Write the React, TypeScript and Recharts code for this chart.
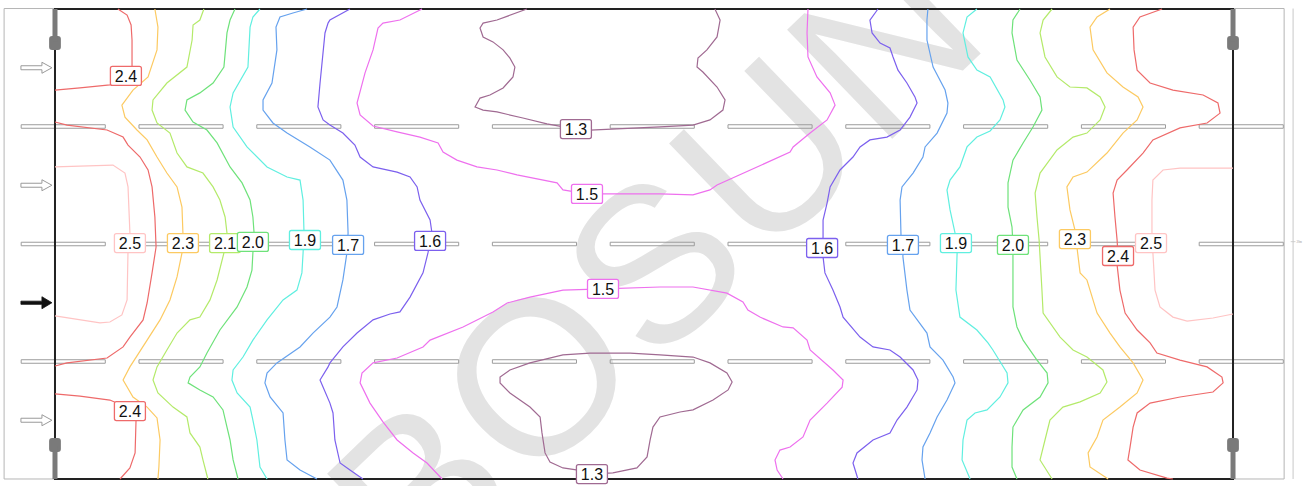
import React from "react";
import { ComposedChart, XAxis, YAxis, Line, Scatter, ReferenceArea, ReferenceLine } from "recharts";

// Room: 50 m x 20 m, coordinates in metres (y measured from the bottom wall)
const X_DOMAIN: [number, number] = [-2.334, 53.098];
const Y_DOMAIN: [number, number] = [-0.298, 20.383];
const ROOM_W = 50;
const ROOM_H = 20;

const levelColors: Record<string, string> = {
  "2.5": "#ffc4c4",
  "2.4": "#ee6a6a",
  "2.3": "#fcca62",
  "2.1": "#b4ea6a",
  "2.0": "#6ee27a",
  "1.9": "#60efe0",
  "1.7": "#66a2ee",
  "1.6": "#7c60ee",
  "1.5": "#ee70ee",
  "1.3": "#a06a92",
};

const c24a = [[0,16.55],[1.06,16.64],[2.33,16.77],[3.18,17.06],[3.27,17.53],[3.27,18.68],[3.23,19.32],[3.06,19.74],[2.67,20]];
const c24b = [[0,15.19],[0.51,15.06],[2.21,14.85],[2.89,14.55],[3.10,14.21],[3.61,13.70],[3.95,13.15],[4.12,12.43],[4.24,11.15],[4.29,9.87],[4.12,8.77],[3.91,7.49],[3.74,6.77],[3.18,6.04],[2.89,5.62],[2.21,5.15],[0.51,4.94],[0,4.81]];
const c24c = [[0,3.62],[1.06,3.53],[2.33,3.36],[3.31,2.94],[3.44,2.51],[3.40,1.11],[3.18,0.47],[2.76,0]];
const c25a = [[0,13.28],[2.46,13.36],[2.97,13.02],[3.10,12.43],[3.18,10.47],[3.10,9.74],[3.06,7.62],[2.84,6.98],[2.33,6.68],[1.91,6.64],[0,6.94]];
const c23a = [[4.24,20],[4.37,19.23],[4.33,18.26],[3.95,17.11],[3.31,16.55],[2.84,15.91],[2.97,15.40],[3.48,14.85],[3.91,14.43],[4.33,13.70],[4.75,13.02],[5.18,12.43],[5.39,11.57],[5.43,10.47],[5.39,9.62],[5.18,8.60],[4.88,7.62],[4.46,6.77],[3.91,5.91],[3.18,4.77],[2.89,4.21],[3.31,3.49],[3.91,3.06],[4.33,2.60],[4.46,1.66],[4.41,0.51],[4.37,0]];
const c21a = [[6.32,20],[6.15,19.53],[5.86,19.32],[5.82,18.68],[5.60,17.53],[4.75,16.85],[4.16,16.13],[4.12,15.70],[4.33,15.15],[4.88,14.72],[5.18,13.87],[5.60,13.28],[6.28,13.02],[6.71,12.43],[7.00,11.87],[7.22,11.15],[7.30,10.47],[7.17,9.62],[6.88,8.47],[6.58,7.62],[6.15,6.89],[5.73,6.77],[5.18,6.21],[4.75,5.49],[4.33,4.77],[4.16,4.21],[4.37,3.66],[5.01,3.06],[5.60,2.64],[5.73,1.96],[6.15,1.36],[6.28,0.81],[6.49,0]];
const c20a = [[7.64,20],[7.43,19.53],[7.30,18.98],[7.17,17.53],[6.71,16.85],[6.15,16.43],[5.60,16.13],[5.52,15.70],[5.86,15.19],[6.45,14.85],[6.88,14.30],[7.43,13.28],[7.94,12.60],[8.28,11.87],[8.40,11.15],[8.45,10.47],[8.40,9.62],[8.36,8.89],[8.15,8.17],[7.73,7.32],[7.00,6.34],[6.45,5.36],[6.15,4.77],[5.73,4.34],[5.65,4.09],[6.15,3.79],[6.71,3.49],[7.13,2.94],[7.30,2.21],[7.43,1.66],[7.56,0.81],[7.77,0]];
const c19a = [[8.70,20],[8.40,19.66],[8.28,19.23],[8.19,17.53],[7.56,16.43],[7.43,15.83],[7.56,14.98],[8.15,14.13],[9.00,13.28],[9.85,12.85],[10.40,12.72],[10.53,11.87],[10.57,10.47],[10.53,9.62],[10.48,8.77],[10.27,8.04],[9.68,7.62],[9.00,6.77],[8.40,5.91],[7.98,5.19],[7.56,4.64],[7.51,4.21],[7.73,3.66],[8.28,3.06],[8.40,2.51],[8.57,1.66],[8.70,0.51],[9.00,0]];
const c17a = [[10.70,20],[10.10,19.83],[9.55,19.66],[9.38,19.23],[9.42,18.26],[9.21,16.85],[8.83,16.13],[8.83,15.70],[9.25,15.15],[9.85,14.72],[10.82,14.13],[11.67,13.57],[12.22,12.72],[12.39,11.87],[12.44,10.47],[12.39,9.62],[12.22,8.47],[11.97,7.32],[11.67,6.89],[10.95,6.21],[10.40,5.62],[9.42,4.94],[9.00,4.51],[8.91,4.09],[9.13,3.49],[9.68,2.81],[9.76,1.66],[9.85,0.81],[10.40,0.38],[11.12,0]];
const c16a = [[12.52,20],[11.67,19.53],[11.59,19.40],[11.46,18.98],[11.25,16.85],[11.16,15.83],[11.38,15.28],[11.67,15.06],[12.22,14.72],[12.73,14.21],[12.95,13.70],[13.50,13.28],[14.52,13.06],[15.07,12.85],[15.37,12.43],[15.49,11.87],[15.92,11.02],[16.00,10.47],[15.83,9.62],[15.62,8.77],[15.07,7.74],[14.64,7.11],[14.22,7.02],[13.50,6.77],[12.82,6.21],[12.22,5.62],[11.67,4.94],[11.59,4.77],[11.25,4.21],[11.67,3.23],[11.80,2.81],[11.88,1.66],[12.10,0.68],[12.52,0.38],[13.07,0]];
const c15a = [[15.58,20],[14.64,19.53],[13.92,19.40],[13.71,19.19],[13.50,18.26],[13.16,17.28],[12.82,16.00],[12.95,15.49],[13.50,15.02],[14.52,14.77],[15.49,14.55],[16.26,14.30],[16.47,13.91],[17.06,13.57],[17.91,13.28],[18.76,13.15],[19.61,12.94],[21.31,12.60],[21.56,12.30],[22.58,12.13],[25.68,12.13],[27.08,12.09],[27.80,12.30],[28.10,12.51],[31.20,13.91],[31.33,14.13],[32.05,14.72],[32.77,15.28],[33.11,15.91],[32.90,16.43],[32.34,17.11],[31.96,17.96],[31.92,18.98],[31.96,20]];
const c15b = [[16.43,0],[15.79,0.68],[15.20,1.11],[14.52,1.66],[13.92,2.43],[13.37,3.23],[12.95,4.09],[13.03,4.51],[13.50,4.94],[14.52,5.15],[15.62,5.62],[15.92,5.91],[17.32,6.47],[18.59,7.11],[19.19,7.49],[20.16,7.74],[21.56,8.04],[23.26,8.09],[25.68,8.17],[27.08,8.17],[28.52,7.91],[29.20,7.53],[29.41,7.19],[29.92,6.89],[30.90,6.47],[31.33,6.43],[31.92,5.91],[32.05,5.49],[33.02,4.64],[33.45,4.21],[33.41,3.91],[32.77,3.23],[32.05,2.51],[31.75,1.79],[31.20,1.36],[30.77,1.23],[30.56,0.81],[30.65,0.38],[30.90,0]];
const c13a = [[20.03,20],[18.76,19.53],[18.17,19.40],[18.04,19.19],[18.17,18.81],[18.59,18.60],[19.02,18.26],[19.31,17.91],[19.52,17.53],[19.44,17.11],[19.02,16.64],[18.46,16.34],[18.04,16.21],[17.83,15.83],[18.17,15.70],[18.76,15.62],[19.86,15.36],[20.88,15.11],[22.11,14.89],[22.71,14.85],[25.68,14.98],[27.08,15.06],[27.80,15.28],[28.35,15.70],[28.44,16.13],[28.10,16.68],[27.50,17.32],[27.25,17.53],[27.29,17.91],[27.67,18.26],[28.10,18.81],[28.23,19.53],[28.01,20]];
const c13b = [[22.79,0.21],[22.20,0.38],[21.56,0.47],[21.01,0.72],[20.80,1.11],[20.67,1.96],[20.59,2.64],[20.16,3.06],[19.31,3.66],[18.89,4.09],[18.89,4.34],[19.31,4.64],[20.16,4.94],[21.56,5.28],[22.71,5.36],[24.41,5.36],[25.68,5.28],[27.08,5.19],[27.80,4.94],[28.52,4.51],[28.74,4.13],[28.57,3.79],[27.93,3.36],[27.08,2.94],[26.53,2.85],[25.68,2.64],[25.38,2.21],[25.26,1.66],[25.13,0.94],[24.70,0.47],[23.68,0.26],[22.79,0.21]];
const c16b = [[34.93,20],[34.59,19.53],[34.68,18.98],[35.02,18.55],[35.44,18.34],[35.57,17.96],[35.78,17.40],[36.16,16.85],[36.50,16.26],[36.59,16.00],[36.29,15.40],[35.87,14.85],[35.31,14.55],[34.59,14.43],[34.17,14.13],[33.87,13.70],[33.32,13.15],[32.90,12.43],[32.77,11.74],[32.60,11.02],[32.60,10.30],[32.56,9.83],[32.60,9.45],[32.68,8.77],[33.02,8.04],[33.32,7.32],[33.45,6.89],[34.17,6.04],[34.72,5.62],[35.44,5.49],[35.87,5.19],[36.42,4.64],[36.63,4.21],[36.59,3.79],[36.16,3.06],[35.74,2.51],[35.44,1.96],[34.72,1.66],[34.04,1.11],[33.87,0.68],[34.08,0]];
const c17b = [[37.05,20],[37.01,19.53],[37.01,18.68],[37.27,17.53],[37.78,16.55],[37.90,16.00],[37.86,15.57],[37.44,14.72],[36.93,14.13],[36.84,13.70],[36.42,13.02],[35.95,12.43],[35.87,11.87],[35.91,10.30],[35.99,9.96],[35.99,9.45],[36.16,8.04],[36.29,7.19],[37.01,6.21],[37.14,5.62],[37.69,5.06],[38.12,4.34],[38.20,4.09],[37.86,3.36],[37.44,2.64],[37.14,1.96],[36.84,1.36],[36.80,0.81],[36.93,0]];
const c19b = [[39.13,20],[38.71,19.66],[38.54,18.98],[38.75,17.96],[39.13,17.40],[39.69,17.11],[40.24,16.13],[40.32,15.83],[40.11,15.28],[39.69,14.81],[39.13,14.55],[38.71,14.13],[38.41,13.28],[37.99,12.72],[37.86,12.30],[37.99,11.45],[38.20,10.47],[38.24,10.04],[38.29,9.62],[38.24,8.04],[38.41,6.89],[39.13,6.34],[39.60,5.79],[39.81,5.49],[40.41,4.51],[40.45,4.09],[40.11,3.49],[39.56,2.94],[39.05,2.81],[38.71,2.51],[38.54,1.66],[38.50,0.81],[38.84,0]];
const c20b = [[40.96,20],[40.66,19.53],[40.62,18.98],[40.83,17.83],[41.38,16.98],[41.81,16.26],[41.89,15.70],[41.51,14.98],[41.09,14.30],[40.66,13.57],[40.45,12.60],[40.45,11.57],[40.62,10.72],[40.66,9.96],[40.66,7.32],[40.83,6.47],[41.09,5.91],[41.68,5.06],[42.11,4.51],[42.15,4.09],[41.81,3.49],[41.09,2.94],[40.66,2.21],[40.62,1.36],[40.62,0.51],[40.83,0]];
const c21b = [[42.32,20],[41.94,19.53],[41.81,18.98],[42.02,17.96],[42.53,17.11],[43.08,16.68],[43.80,16.64],[44.36,16.26],[44.57,15.83],[44.36,15.28],[43.80,14.72],[43.21,14.55],[42.53,14.00],[41.81,13.02],[41.60,12.17],[41.68,11.15],[41.77,10.17],[41.89,8.04],[41.94,7.06],[42.66,6.04],[43.21,5.49],[43.80,5.19],[44.48,4.64],[44.65,4.13],[44.36,3.66],[43.51,3.28],[42.78,3.06],[42.23,2.51],[42.02,1.66],[41.81,0.81],[42.32,0]];
const c23b = [[44.78,20],[44.23,19.66],[43.93,19.23],[44.06,18.26],[44.65,17.28],[45.33,16.68],[45.97,16.26],[46.18,15.83],[45.93,15.28],[45.33,14.72],[44.65,13.87],[43.80,13.06],[43.21,12.85],[42.95,12.43],[43.08,11.45],[43.29,10.60],[43.29,10.21],[43.38,9.83],[43.51,8.77],[43.80,8.47],[44.23,7.06],[44.78,6.21],[45.20,5.62],[45.76,4.94],[46.18,4.21],[45.93,3.66],[45.20,3.06],[44.48,2.51],[44.23,1.79],[43.85,1.11],[43.93,0.51],[44.70,0]];
const c24d = [[46.99,20],[46.05,19.66],[45.76,19.23],[45.80,18.26],[45.93,17.40],[46.48,16.85],[47.45,16.55],[48.73,16.34],[49.36,16.00],[49.45,15.57],[48.90,15.15],[47.75,14.94],[46.60,14.43],[46.18,13.87],[45.50,13.15],[45.08,12.72],[44.91,12.17],[44.99,11.15],[45.08,10.17],[45.12,9.49],[45.08,9.11],[45.20,8.04],[45.42,7.06],[45.93,6.34],[46.48,5.79],[46.77,5.36],[47.75,5.06],[48.90,4.77],[49.53,4.34],[49.58,4.09],[49.15,3.70],[47.75,3.49],[46.48,3.23],[45.93,2.81],[45.76,2.21],[45.63,1.36],[45.54,0.81],[46.05,0.38],[47.20,0.04],[47.45,0]];
const c25b = [[50,13.23],[47.75,13.23],[47.03,13.15],[46.60,12.72],[46.56,11.87],[46.56,10.47],[46.52,10.04],[46.60,9.62],[46.69,8.04],[46.90,7.32],[47.45,6.89],[48.05,6.72],[49.15,6.85],[50,7.02]];

const contours: { level: string; pts: number[][] }[] = [
  { level: "2.5", pts: c25a }, { level: "2.5", pts: c25b },
  { level: "2.4", pts: c24a }, { level: "2.4", pts: c24b }, { level: "2.4", pts: c24c }, { level: "2.4", pts: c24d },
  { level: "2.3", pts: c23a }, { level: "2.3", pts: c23b },
  { level: "2.1", pts: c21a }, { level: "2.1", pts: c21b },
  { level: "2.0", pts: c20a }, { level: "2.0", pts: c20b },
  { level: "1.9", pts: c19a }, { level: "1.9", pts: c19b },
  { level: "1.7", pts: c17a }, { level: "1.7", pts: c17b },
  { level: "1.6", pts: c16a }, { level: "1.6", pts: c16b },
  { level: "1.5", pts: c15a }, { level: "1.5", pts: c15b },
  { level: "1.3", pts: c13a }, { level: "1.3", pts: c13b },
];

// Contour labels: [x, y, level]
const labelPos: [number, number, string][] = [
  [3.01, 17.15, "2.4"], [3.18, 2.89, "2.4"], [3.18, 10.04, "2.5"], [5.43, 10.04, "2.3"],
  [7.22, 10.04, "2.1"], [8.40, 10.09, "2.0"], [10.61, 10.17, "1.9"], [12.44, 9.96, "1.7"],
  [15.92, 10.13, "1.6"], [22.11, 14.89, "1.3"], [22.58, 12.13, "1.5"], [23.26, 8.09, "1.5"],
  [22.79, 0.21, "1.3"], [32.56, 9.83, "1.6"], [35.99, 9.96, "1.7"], [38.24, 10.04, "1.9"],
  [40.66, 9.96, "2.0"], [43.29, 10.21, "2.3"], [45.12, 9.49, "2.4"], [46.52, 10.04, "2.5"],
];

// Luminaire rows (y) and luminaire centres (x), length in metres
const tubeRowsY = [15, 10, 5];
const tubeCentersX = [0.35, 5.35, 10.35, 15.35, 20.35, 25.35, 30.35, 35.35, 40.35, 45.35, 50.35];
const TUBE_LEN = 3.57;
const TUBE_THK = 0.15;

// Inlet arrows at the left wall: [tipX, y, solid]
const arrowPos: [number, number, number][] = [[-0.13, 17.5, 0], [-0.13, 12.5, 0], [-0.13, 7.5, 1], [-0.13, 2.5, 0]];

// Columns at the corners
const columnX = [0, ROOM_W];

const contourData = contours.map((c) => ({ level: c.level, data: c.pts.map(([x, y]) => ({ x, y })) }));
const labelData = labelPos.map(([x, y, v]) => ({ x, y, v, c: levelColors[v] }));
const arrowData = arrowPos.map(([x, y, s]) => ({ x, y, s }));
const tubes: { x1: number; x2: number; y1: number; y2: number }[] = [];
tubeRowsY.forEach((ty) =>
  tubeCentersX.forEach((tx) =>
    tubes.push({ x1: tx - TUBE_LEN / 2, x2: tx + TUBE_LEN / 2, y1: ty - TUBE_THK / 2, y2: ty + TUBE_THK / 2 })
  )
);

const FONT = "'Liberation Sans', Arial, sans-serif";

const LabelShape = (props: any) => {
  const { cx, cy } = props;
  const p = props.payload || props;
  if (cx == null || cy == null) return <g />;
  return (
    <g>
      <rect x={cx - 15.5} y={cy - 9.5} width={31} height={19} rx={2} fill="#ffffff" stroke={p.c} strokeWidth={1.3} />
      <text x={cx} y={cy + 5.8} textAnchor="middle" fontSize={16} fontFamily={FONT} fill="#111">
        {p.v}
      </text>
    </g>
  );
};

const ArrowShape = (props: any) => {
  const { cx, cy } = props;
  const p = props.payload || props;
  if (cx == null || cy == null) return <g />;
  if (p.s) {
    const d = `M${cx - 31},${cy - 1.6} L${cx - 10},${cy - 1.6} L${cx - 10},${cy - 6} L${cx},${cy} L${cx - 10},${cy + 6} L${cx - 10},${cy + 1.6} L${cx - 31},${cy + 1.6} Z`;
    return <path d={d} fill="#111" stroke="#111" strokeWidth={0.8} />;
  }
  const d = `M${cx - 31},${cy - 2} L${cx - 10},${cy - 2} L${cx - 10},${cy - 5.5} L${cx},${cy} L${cx - 10},${cy + 5.5} L${cx - 10},${cy + 2} L${cx - 31},${cy + 2} Z`;
  return <path d={d} fill="#fff" stroke="#9a9a9a" strokeWidth={1} />;
};

const KnobShape = (props: any) => (
  <rect x={props.x} y={props.y} width={props.width} height={props.height} rx={3} fill="#7a7a7a" />
);

export default function App() {
  return (
    <div style={{ position: "absolute", left: 0, top: 0, width: 1306, height: 486, overflow: "hidden", background: "#fff" }}>
      <div
        style={{
          position: "absolute",
          left: 655,
          top: 262,
          transform: "translate(-50%, -50%) rotate(-44deg)",
          fontFamily: FONT,
          fontSize: 220,
          color: "#e3e3e3",
          whiteSpace: "nowrap",
          lineHeight: 1,
          letterSpacing: 4,
        }}
      >
        BOSUN
      </div>
      <div style={{ position: "absolute", left: 0, top: 0 }}>
        <ComposedChart width={1306} height={486} margin={{ top: 0, right: 0, bottom: 0, left: 0 }}>
          <XAxis type="number" dataKey="x" domain={X_DOMAIN} allowDataOverflow hide />
          <YAxis type="number" dataKey="y" domain={Y_DOMAIN} allowDataOverflow hide />
          {/* outer frame */}
          <ReferenceArea x1={-2.16} x2={52.17} y1={0} y2={20.02} fill="none" stroke="#b5b5b5" strokeWidth={1} ifOverflow="visible" />
          <ReferenceLine segment={[{ x: 52.55, y: 0 }, { x: 52.55, y: 20.02 }]} stroke="#c8c8c8" strokeWidth={1} ifOverflow="visible" />
          <ReferenceLine
            segment={[{ x: 52.45, y: 10.1 }, { x: 52.65, y: 10.1 }]}
            stroke="#c8c8c8"
            strokeWidth={0.8}
            ifOverflow="visible"
            label={{ value: "20m", position: "right", offset: 1, fontSize: 3, fill: "#999" }}
          />
          {tubes.map((t, i) => (
            <ReferenceArea key={"t" + i} x1={t.x1} x2={t.x2} y1={t.y1} y2={t.y2} fill="none" stroke="#9c9c9c" strokeWidth={1} ifOverflow="visible" />
          ))}
          {contourData.map((c, i) => (
            <Line
              key={"c" + i}
              data={c.data}
              dataKey="y"
              type="linear"
              stroke={levelColors[c.level]}
              strokeWidth={1.2}
              dot={false}
              activeDot={false}
              isAnimationActive={false}
            />
          ))}
          {/* room walls */}
          <ReferenceArea x1={0} x2={ROOM_W} y1={0} y2={ROOM_H} fill="none" stroke="#222" strokeWidth={2} ifOverflow="visible" />
          {columnX.map((cx) => (
            <ReferenceLine key={"ct" + cx} segment={[{ x: cx, y: ROOM_H }, { x: cx, y: 18.6 }]} stroke="#7a7a7a" strokeWidth={5} ifOverflow="visible" />
          ))}
          {columnX.map((cx) => (
            <ReferenceLine key={"cb" + cx} segment={[{ x: cx, y: 0 }, { x: cx, y: 1.4 }]} stroke="#7a7a7a" strokeWidth={5} ifOverflow="visible" />
          ))}
          {columnX.map((cx) => (
            <ReferenceArea key={"kt" + cx} x1={cx - 0.25} x2={cx + 0.25} y1={18.26} y2={18.85} shape={KnobShape} ifOverflow="visible" />
          ))}
          {columnX.map((cx) => (
            <ReferenceArea key={"kb" + cx} x1={cx - 0.25} x2={cx + 0.25} y1={1.15} y2={1.745} shape={KnobShape} ifOverflow="visible" />
          ))}
          <Scatter data={labelData} shape={LabelShape} isAnimationActive={false} />
          <Scatter data={arrowData} shape={ArrowShape} isAnimationActive={false} />
        </ComposedChart>
      </div>
    </div>
  );
}
